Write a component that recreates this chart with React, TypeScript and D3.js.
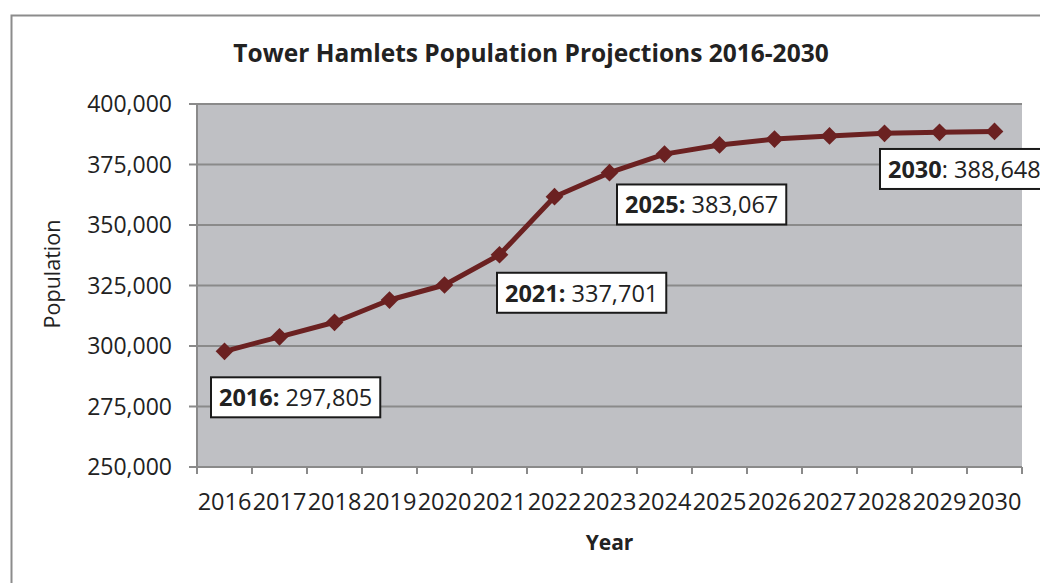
import React, { useEffect, useRef } from "react";
import * as d3 from "d3";

const years = ["2016", "2017", "2018", "2019", "2020", "2021", "2022", "2023", "2024", "2025", "2026", "2027", "2028", "2029", "2030"];
const population = [297805, 303800, 309800, 319000, 325200, 337701, 361700, 371600, 379300, 383067, 385500, 386800, 387900, 388300, 388648];
const yTicks = [250000, 275000, 300000, 325000, 350000, 375000, 400000];
const labelYears = ["2016", "2021", "2025", "2030"];
const labelBoldColon = [true, true, true, false];

const title = "Tower Hamlets Population Projections 2016-2030";
const xTitle = "Year";
const yTitle = "Population";

// layout (pixels)
const W = 1040, H = 583;
const PL = 197, PR = 1022, PT = 104, PB = 467;
const labelOffsets = [
  { dx: -13.5, dy: 26 },
  { dx: -2.5, dy: 18 },
  { dx: -102.5, dy: 39.5 },
  { dx: -114.5, dy: 17.5 },
];
const FONT = "'Open Sans', 'DejaVu Sans', sans-serif";

export default function App() {
  const ref = useRef<SVGSVGElement>(null);
  useEffect(() => {
    const svg = d3.select(ref.current!);
    svg.selectAll("*").remove();

    // outer frame
    svg.append("rect").attr("x", 11.5).attr("y", 15.5).attr("width", W + 20).attr("height", H + 20)
      .attr("fill", "#fff").attr("stroke", "#8c8c8c").attr("stroke-width", 2);

    const x = d3.scaleBand<string>().domain(years).range([PL, PR]);
    const y = d3.scaleLinear().domain([250000, 400000]).range([PB, PT]);

    // plot bg
    svg.append("rect").attr("x", PL).attr("y", PT).attr("width", PR - PL).attr("height", PB - PT).attr("fill", "#bfc0c4");

    // gridlines
    svg.append("g").selectAll("line").data(yTicks).join("line")
      .attr("x1", PL - 8).attr("x2", PR).attr("y1", d => y(d)).attr("y2", d => y(d))
      .attr("stroke", "#8a8a8a").attr("stroke-width", 2);

    // y axis line
    svg.append("line").attr("x1", PL).attr("x2", PL).attr("y1", PT).attr("y2", PB + 7)
      .attr("stroke", "#8a8a8a").attr("stroke-width", 2);

    // x ticks at band boundaries
    const bounds = years.map(yr => x(yr)!).concat([PR]);
    svg.append("g").selectAll("line").data(bounds.slice(1)).join("line")
      .attr("x1", d => d).attr("x2", d => d).attr("y1", PB).attr("y2", PB + 7)
      .attr("stroke", "#8a8a8a").attr("stroke-width", 2);

    // y tick labels
    const fmt = d3.format(",");
    svg.append("g").selectAll("text").data(yTicks).join("text")
      .attr("x", 172).attr("y", d => y(d) + 8).attr("text-anchor", "end")
      .attr("font-family", FONT).attr("font-size", 23).attr("fill", "#222")
      .text(d => fmt(d));

    // x tick labels
    svg.append("g").selectAll("text").data(years).join("text")
      .attr("x", d => x(d)! + x.bandwidth() / 2).attr("y", 510).attr("text-anchor", "middle")
      .attr("font-family", FONT).attr("font-size", 23.5).attr("fill", "#222")
      .text(d => d);

    // titles
    svg.append("text").attr("x", 531).attr("y", 62).attr("text-anchor", "middle")
      .attr("font-family", FONT).attr("font-weight", "bold").attr("font-size", 24.5).attr("fill", "#222").text(title);
    svg.append("text").attr("x", (PL + PR) / 2).attr("y", 550).attr("text-anchor", "middle")
      .attr("font-family", FONT).attr("font-weight", "bold").attr("font-size", 21).attr("fill", "#222").text(xTitle);
    svg.append("text").attr("transform", `translate(60,274) rotate(-90)`).attr("text-anchor", "middle")
      .attr("font-family", FONT).attr("font-size", 21.5).attr("fill", "#222").text(yTitle);

    // line
    const cx = (yr: string) => x(yr)! + x.bandwidth() / 2;
    const pts = years.map((yr, i) => [cx(yr), y(population[i])] as [number, number]);
    svg.append("path").attr("d", d3.line()(pts)).attr("fill", "none")
      .attr("stroke", "#6b2121").attr("stroke-width", 5).attr("stroke-linejoin", "round");
    const sym = d3.symbol().type(d3.symbolDiamond2).size(200);
    svg.append("g").selectAll("path").data(pts).join("path")
      .attr("transform", d => `translate(${d[0]},${d[1]})`).attr("d", sym()!).attr("fill", "#6b2121");

    // labels
    labelYears.forEach((yr, k) => {
      const i = years.indexOf(yr);
      const px = cx(yr), py = y(population[i]);
      const off = labelOffsets[k];
      const bx = px + off.dx, by = py + off.dy;
      const g = svg.append("g");
      const rect = g.append("rect").attr("x", bx).attr("y", by).attr("height", 40)
        .attr("fill", "#fff").attr("stroke", "#1a1a1a").attr("stroke-width", 2);
      const t = g.append("text").attr("x", bx + 8).attr("y", by + 29)
        .attr("font-family", FONT).attr("font-size", 23.5).attr("fill", "#222");
      if (labelBoldColon[k]) {
        t.append("tspan").attr("font-weight", "bold").text(yr + ":");
        t.append("tspan").text(" " + fmt(population[i]));
      } else {
        t.append("tspan").attr("font-weight", "bold").text(yr);
        t.append("tspan").text(": " + fmt(population[i]));
      }
      const w = (t.node() as SVGTextElement).getComputedTextLength();
      rect.attr("width", w + 16);
    });
  }, []);
  return (
    <svg ref={ref} width={W} height={H} style={{ position: "absolute", left: 0, top: 0, background: "#fff" }} />
  );
}
